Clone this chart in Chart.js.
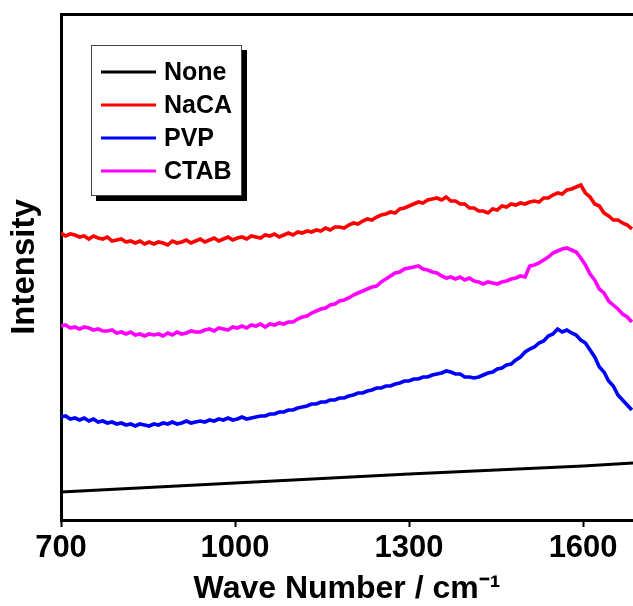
<!DOCTYPE html>
<html lang="en">
<head>
<meta charset="UTF-8">
<title>Raman spectra</title>
<script src="https://cdn.jsdelivr.net/npm/chart.js"></script>
<style>
    html, body { margin: 0; padding: 0; background: #fff; }
    .wrap { width: 633px; height: 606px; position: relative; }
</style>
</head>
<body>
<div class="wrap"><canvas id="spectra"></canvas></div>
<script>
// spectra sampled every 8 cm-1 from 700
const waveStart = 700;
const waveStep = 8;
const xTicks = [700, 1000, 1300, 1600];
const seriesNames = ["None", "NaCA", "PVP", "CTAB"];
const seriesColors = ["#000000", "#ff0000", "#0000ff", "#ff00ff"];

// "None" is a straight sloping line, read at a few points
const noneWave = [700, 1000, 1300, 1600, 1686];
const noneVals = [28, 37, 46, 54, 57];

const nacaVals = [
    287, 284, 286, 285, 283, 284, 281, 284, 282, 281,
    283, 279, 280, 281, 278, 279, 277, 279, 276, 278,
    276, 278, 277, 275, 279, 277, 278, 280, 277, 279,
    281, 278, 280, 282, 279, 281, 283, 280, 282, 283,
    281, 284, 283, 282, 285, 284, 286, 283, 285, 287,
    285, 288, 287, 289, 288, 290, 289, 292, 290, 293,
    293, 292, 295, 297, 296, 299, 301, 300, 303, 305,
    306, 308, 307, 311, 312, 314, 316, 318, 317, 320,
    321, 322, 320, 323, 319, 319, 316, 316, 312, 312,
    309, 309, 307, 311, 310, 314, 313, 316, 315, 317,
    316, 318, 319, 318, 322, 322, 325, 327, 326, 330,
    331, 333, 335, 327, 323, 316, 314, 307, 304, 300,
    300, 297, 295, 291
];

const pvpVals = [
    103, 104, 101, 102, 100, 102, 99, 101, 98, 99,
    97, 98, 96, 97, 95, 96, 94, 96, 95, 94,
    96, 95, 97, 96, 98, 96, 97, 99, 97, 98,
    99, 98, 100, 99, 101, 100, 102, 100, 101, 103,
    101, 102, 103, 104, 104, 106, 106, 108, 108, 110,
    110, 112, 113, 114, 116, 116, 118, 118, 120, 120,
    122, 122, 124, 125, 127, 127, 129, 130, 132, 132,
    134, 134, 136, 137, 139, 139, 141, 141, 143, 143,
    145, 146, 147, 149, 148, 146, 146, 143, 143, 142,
    143, 145, 147, 148, 151, 152, 155, 156, 160, 163,
    168, 171, 173, 177, 179, 184, 186, 191, 188, 190,
    187, 185, 180, 177, 170, 163, 153, 148, 139, 134,
    125, 120, 115, 110
];

const ctabVals = [
    194, 195, 192, 193, 191, 193, 192, 190, 191, 189,
    189, 190, 187, 188, 186, 188, 185, 186, 184, 186,
    185, 186, 184, 187, 185, 188, 186, 187, 189, 188,
    188, 190, 191, 189, 192, 191, 190, 193, 192, 194,
    192, 195, 194, 196, 193, 196, 195, 197, 196, 198,
    198, 201, 203, 204, 207, 209, 211, 212, 215, 216,
    219, 220, 222, 225, 227, 229, 231, 233, 234, 238,
    241, 244, 247, 248, 251, 252, 253, 254, 251, 250,
    248, 247, 244, 242, 243, 241, 243, 240, 242, 239,
    238, 236, 238, 237, 236, 238, 239, 241, 242, 244,
    243, 254, 255, 257, 260, 263, 267, 269, 271, 272,
    270, 268, 262, 255, 246, 240, 231, 227, 219, 215,
    211, 206, 203, 198
];

const fontFamily = "'Liberation Sans', Arial, sans-serif";

function toPoints(vals) {
    return vals.map((v, i) => ({ x: waveStart + i * waveStep, y: v }));
}

const seriesData = [
    noneWave.map((w, i) => ({ x: w, y: noneVals[i] })),
    toPoints(nacaVals),
    toPoints(pvpVals),
    toPoints(ctabVals)
];

// boxed legend with drop shadow inside the plot
const boxLegend = {
    id: "boxLegend",
    afterDraw(chart) {
        const ctx = chart.ctx;
        const bx = 91, by = 45, bw = 151, bh = 151;
        ctx.save();
        ctx.fillStyle = "#000";
        ctx.fillRect(bx + 5, by + 5, bw, bh);
        ctx.fillStyle = "#fff";
        ctx.fillRect(bx, by, bw, bh);
        ctx.strokeStyle = "#444";
        ctx.lineWidth = 1;
        ctx.strokeRect(bx + 0.5, by + 0.5, bw - 1, bh - 1);
        ctx.font = "bold 25px " + fontFamily;
        ctx.textBaseline = "middle";
        ctx.textAlign = "left";
        chart.data.datasets.forEach((ds, i) => {
            const ry = by + 27 + i * 33;
            ctx.strokeStyle = ds.borderColor;
            ctx.lineWidth = 3;
            ctx.beginPath();
            ctx.moveTo(101, ry);
            ctx.lineTo(156, ry);
            ctx.stroke();
            ctx.fillStyle = "#000";
            ctx.fillText(ds.label, 164, ry + 1);
        });
        ctx.restore();
    }
};

new Chart(document.getElementById("spectra"), {
    type: "line",
    data: {
        datasets: seriesNames.map((name, i) => ({
            label: name,
            data: seriesData[i],
            borderColor: seriesColors[i],
            backgroundColor: seriesColors[i],
            borderWidth: i === 0 ? 3 : 3.6,
            pointRadius: 0,
            tension: 0,
            fill: false
        }))
    },
    options: {
        responsive: true,
        maintainAspectRatio: false,
        animation: false,
        layout: { padding: 0 },
        plugins: {
            legend: { display: false },
            tooltip: { enabled: false }
        },
        scales: {
            x: {
                type: "linear",
                position: "bottom",
                min: 700,
                max: 1686,
                afterBuildTicks: (scale) => { scale.ticks = xTicks.map(v => ({ value: v })); },
                afterFit: (scale) => { scale.height = 86; },
                grid: {
                    drawOnChartArea: false,
                    drawTicks: true,
                    tickLength: 7,
                    tickWidth: 2,
                    tickColor: "#000"
                },
                border: { display: true, color: "#000", width: 3 },
                ticks: {
                    color: "#000",
                    padding: 3,
                    maxRotation: 0,
                    callback: (v) => String(v),
                    font: { family: fontFamily, size: 31, weight: "bold" }
                },
                title: {
                    display: true,
                    text: "Wave Number / cm\u207B\u00B9",
                    color: "#000",
                    padding: { top: 0, bottom: 1 },
                    font: { family: fontFamily, size: 32, weight: "bold", lineHeight: 1 }
                }
            },
            xTop: {
                type: "linear",
                position: "top",
                min: 700,
                max: 1686,
                afterFit: (scale) => { scale.height = 14; },
                grid: { drawOnChartArea: false, drawTicks: false },
                border: { display: true, color: "#000", width: 3 },
                ticks: { display: false }
            },
            y: {
                min: 0,
                max: 506,
                afterFit: (scale) => { scale.width = 61; },
                grid: { drawOnChartArea: false, drawTicks: false },
                border: { display: true, color: "#000", width: 3 },
                ticks: { display: false },
                title: {
                    display: true,
                    text: "Intensity",
                    color: "#000",
                    padding: { top: 8, bottom: 0 },
                    font: { family: fontFamily, size: 33, weight: "bold", lineHeight: 1 }
                }
            }
        }
    },
    plugins: [boxLegend]
});
</script>
</body>
</html>
